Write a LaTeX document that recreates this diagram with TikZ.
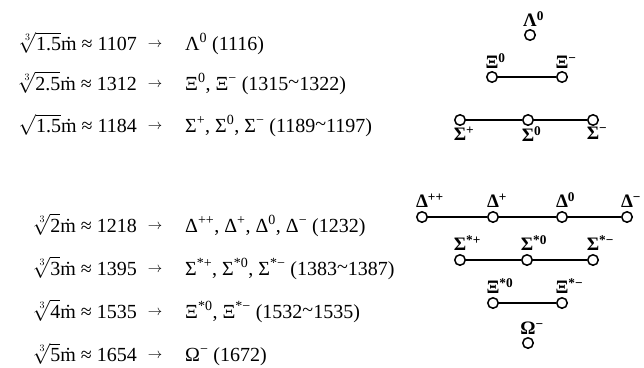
\documentclass[tikz,border=0pt]{standalone}
\usepackage{fontspec}
\setmainfont{Liberation Serif}
\newcommand{\sq}[2][3]{$\sqrt[#1]{\mbox{#2}}$\.m}
\newcommand{\sqq}[1]{$\sqrt{\mbox{#1}}$\.m}
\newcommand{\sps}[1]{\textsuperscript{#1}}
\newcommand{\tld}{\raisebox{0.1em}{\textasciitilde}}
\begin{document}
\begin{tikzpicture}[x=1pt,y=-1pt]
\useasboundingbox (0,0) rectangle (644,367);
\tikzset{
 lhs/.style={anchor=base east, inner sep=0pt, font=\fontsize{20}{24}\selectfont},
 rhs/.style={anchor=base west, inner sep=0pt, font=\fontsize{20}{24}\selectfont},
 arr/.style={anchor=base, inner sep=0pt, font=\fontsize{15}{18}\selectfont},
 pt/.style={circle, draw, line width=1.5pt, minimum size=10.5pt, inner sep=0pt, fill=white},
 labup/.style={anchor=south, inner sep=0pt, font=\fontsize{19}{22}\selectfont\bfseries},
 labdn/.style={anchor=north, inner sep=0pt, font=\fontsize{19}{22}\selectfont\bfseries},
 link/.style={line width=1.5pt}
}
% left column
\node[lhs] (l1) at (137,50) {\sq{1.5} ≈ 1107};
\node[arr] (a1) at (155,47) {$\rightarrow$};
\node[rhs] (r1) at (185,50) {Λ\sps{0} (1116)};
\node[lhs] (l2) at (137,90) {\sq{2.5} ≈ 1312};
\node[arr] (a2) at (155,87) {$\rightarrow$};
\node[rhs] (r2) at (185,90) {Ξ\sps{0}, Ξ\sps{−} (1315\tld1322)};
\node[lhs] (l3) at (137,132) {\sqq{1.5} ≈ 1184};
\node[arr] (a3) at (155,129) {$\rightarrow$};
\node[rhs] (r3) at (185,132) {Σ\sps{+}, Σ\sps{0}, Σ\sps{−} (1189\tld1197)};
\node[lhs] (l4) at (137,232) {\sq{2} ≈ 1218};
\node[arr] (a4) at (155,229) {$\rightarrow$};
\node[rhs] (r4) at (185,232) {Δ\sps{++}, Δ\sps{+}, Δ\sps{0}, Δ\sps{−} (1232)};
\node[lhs] (l5) at (137,275) {\sq{3} ≈ 1395};
\node[arr] (a5) at (155,272) {$\rightarrow$};
\node[rhs] (r5) at (185,275) {Σ\sps{*+}, Σ\sps{*0}, Σ\sps{*−} (1383\tld1387)};
\node[lhs] (l6) at (137,318) {\sq{4} ≈ 1535};
\node[arr] (a6) at (155,315) {$\rightarrow$};
\node[rhs] (r6) at (185,318) {Ξ\sps{*0}, Ξ\sps{*−} (1532\tld1535)};
\node[lhs] (l7) at (137,361) {\sq{5} ≈ 1654};
\node[arr] (a7) at (155,358) {$\rightarrow$};
\node[rhs] (r7) at (185,361) {Ω\sps{−} (1672)};
% upper diagram
\node[pt] (lam) at (530,35) {};
\node[pt] (xi0) at (492,77) {};
\node[pt] (xim) at (562,77) {};
\node[pt] (sp) at (460,120) {};
\node[pt] (s0) at (528,120) {};
\node[pt] (sm) at (593,120) {};
\draw[link] (xi0) -- (xim);
\draw[link] (sp) -- (s0);
\draw[link] (s0) -- (sm);
\node[labup] (llam) at ([yshift=2pt]lam.north) {Λ\rlap{\sps{0}}};
\node[labup] (lxi0) at ([yshift=2pt]xi0.north) {Ξ\rlap{\sps{0}}};
\node[labup] (lxim) at ([yshift=2pt]xim.north) {Ξ\rlap{\sps{−}}};
\node[labdn] (lsp) at ([yshift=-0.5pt]sp.south) {Σ\rlap{\sps{+}}};
\node[labdn] (ls0) at ([yshift=-0.5pt]s0.south) {Σ\rlap{\sps{0}}};
\node[labdn] (lsm) at ([yshift=-0.5pt]sm.south) {Σ\rlap{\sps{−}}};
% lower diagram
\node[pt] (d1) at (422,217) {};
\node[pt] (d2) at (493,217) {};
\node[pt] (d3) at (562,217) {};
\node[pt] (d4) at (627,217) {};
\draw[link] (d1) -- (d2);
\draw[link] (d2) -- (d3);
\draw[link] (d3) -- (d4);
\node[labup] (ld1) at ([yshift=3pt]d1.north) {Δ\rlap{\sps{++}}};
\node[labup] (ld2) at ([yshift=3pt]d2.north) {Δ\rlap{\sps{+}}};
\node[labup] (ld3) at ([yshift=3pt]d3.north) {Δ\rlap{\sps{0}}};
\node[labup] (ld4) at ([yshift=3pt]d4.north) {Δ\rlap{\sps{−}}};
\node[pt] (e1) at (460,260) {};
\node[pt] (e2) at (527,260) {};
\node[pt] (e3) at (593,260) {};
\draw[link] (e1) -- (e2);
\draw[link] (e2) -- (e3);
\node[labup] (le1) at ([yshift=3pt]e1.north) {Σ\rlap{\sps{*+}}};
\node[labup] (le2) at ([yshift=3pt]e2.north) {Σ\rlap{\sps{*0}}};
\node[labup] (le3) at ([yshift=3pt]e3.north) {Σ\rlap{\sps{*−}}};
\node[pt] (x1) at (493,303) {};
\node[pt] (x2) at (562,303) {};
\draw[link] (x1) -- (x2);
\node[labup] (lx1) at ([yshift=3pt]x1.north) {Ξ\rlap{\sps{*0}}};
\node[labup] (lx2) at ([yshift=3pt]x2.north) {Ξ\rlap{\sps{*−}}};
\node[pt] (om) at (528,343) {};
\node[labup] (lom) at ([yshift=2pt]om.north) {Ω\rlap{\sps{−}}};
\end{tikzpicture}
\end{document}
